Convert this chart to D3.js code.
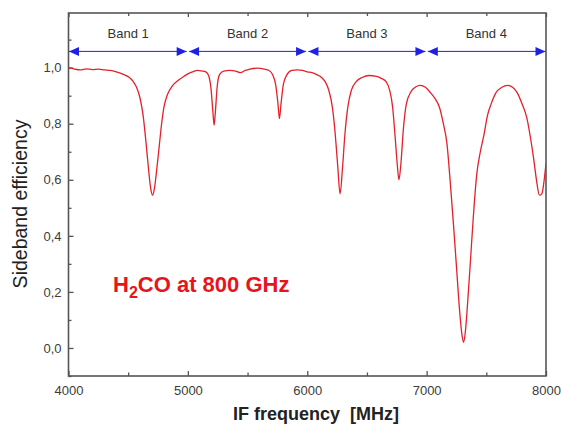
<!DOCTYPE html>
<html>
<head>
<meta charset="utf-8">
<script src="https://cdn.jsdelivr.net/npm/d3@7"></script>
<style>
  body { margin: 0; background: #fff; }
  text { font-family: "Liberation Sans", Arial, sans-serif; }
</style>
</head>
<body>
<div class="vis"></div>
<script>
// IF frequency (MHz) and sideband efficiency
const freq = [4000, 4050, 4100, 4150, 4200, 4250, 4300, 4350, 4400, 4450, 4500, 4540, 4570, 4600, 4625, 4650, 4670, 4690, 4705, 4720, 4740, 4760, 4780, 4800, 4830, 4870, 4920, 4970,
  5000, 5040, 5080, 5120, 5150, 5175, 5195, 5210, 5220, 5230, 5245, 5265, 5300, 5350, 5400, 5440, 5480, 5520, 5580, 5640, 5680, 5710, 5735, 5755, 5767, 5780, 5800, 5830, 5870, 5920, 5960,
  6000, 6040, 6080, 6120, 6150, 6180, 6210, 6235, 6255, 6275, 6295, 6315, 6340, 6370, 6410, 6460, 6520, 6570, 6620, 6660, 6690, 6715, 6735, 6755, 6768, 6785, 6805, 6830, 6870, 6910, 6945, 6990,
  7030, 7070, 7110, 7140, 7170, 7200, 7225, 7250, 7275, 7295, 7310, 7325, 7345, 7370, 7390, 7420, 7450, 7480, 7510, 7540, 7580, 7630, 7680, 7720, 7760, 7800, 7840, 7870, 7895, 7920, 7945, 7965, 7985, 8000];
const efficiency = [1.000, 0.995, 0.992, 0.996, 0.993, 0.995, 0.992, 0.990, 0.985, 0.978, 0.968, 0.952, 0.930, 0.890, 0.830, 0.730, 0.640, 0.565, 0.545, 0.570, 0.640, 0.720, 0.800, 0.860, 0.905, 0.935, 0.955, 0.970,
  0.978, 0.985, 0.990, 0.988, 0.985, 0.970, 0.920, 0.840, 0.795, 0.840, 0.930, 0.975, 0.988, 0.990, 0.988, 0.982, 0.990, 0.995, 0.998, 0.995, 0.990, 0.975, 0.940, 0.870, 0.818, 0.870, 0.940, 0.975, 0.990, 0.992, 0.990,
  0.985, 0.982, 0.975, 0.965, 0.950, 0.920, 0.860, 0.760, 0.650, 0.550, 0.640, 0.760, 0.860, 0.920, 0.950, 0.965, 0.972, 0.970, 0.962, 0.950, 0.920, 0.860, 0.760, 0.650, 0.600, 0.660, 0.780, 0.870, 0.915, 0.932, 0.937, 0.930,
  0.912, 0.890, 0.855, 0.800, 0.730, 0.580, 0.440, 0.290, 0.140, 0.050, 0.020, 0.060, 0.170, 0.330, 0.460, 0.620, 0.700, 0.760, 0.830, 0.870, 0.910, 0.930, 0.937, 0.930, 0.910, 0.870, 0.820, 0.750, 0.680, 0.600, 0.545, 0.550, 0.600, 0.660];

const bandNames = ["Band 1", "Band 2", "Band 3", "Band 4"];
const bandStart = [4000, 5000, 6000, 7000];
const bandEnd = [5000, 6000, 7000, 8000];
const bandLevel = 1.058;

const xMajor = [4000, 5000, 6000, 7000, 8000];
const xMinor = [4500, 5500, 6500, 7500];
const yMajor = [0.0, 0.2, 0.4, 0.6, 0.8, 1.0];
const yMinor = [-0.1, 0.1, 0.3, 0.5, 0.7, 0.9, 1.1];

const data = freq.map((f, i) => ({ f: f, e: efficiency[i] }));

const W = 561, H = 429;
const plot = { left: 68.5, right: 546, top: 13, bottom: 376 };

const svg = d3.select(".vis").append("svg")
    .attr("width", W)
    .attr("height", H);

const x = d3.scaleLinear().domain([4000, 8000]).range([plot.left, plot.right]);
const y = d3.scaleLinear().domain([-0.1, 1.195]).range([plot.bottom, plot.top]);

const axisColor = "#555";
const labelColor = "#3c3c3c";

// bottom axis (ticks inward)
svg.append("g").attr("transform", "translate(0," + plot.bottom + ")")
    .call(d3.axisBottom(x).tickValues(xMajor).tickSizeInner(-5).tickSizeOuter(0).tickPadding(10).tickFormat(d3.format("d")));
svg.append("g").attr("transform", "translate(0," + plot.bottom + ")")
    .call(d3.axisBottom(x).tickValues(xMinor).tickSizeInner(-3.5).tickSizeOuter(0).tickFormat(""));
// top ticks
svg.append("g").attr("transform", "translate(0," + plot.top + ")")
    .call(d3.axisTop(x).tickValues(xMajor).tickSizeInner(-4).tickSizeOuter(0).tickFormat(""));
svg.append("g").attr("transform", "translate(0," + plot.top + ")")
    .call(d3.axisTop(x).tickValues(xMinor).tickSizeInner(-3).tickSizeOuter(0).tickFormat(""));

// left axis
const comma = v => d3.format(".1f")(v).replace(".", ",");
svg.append("g").attr("transform", "translate(" + plot.left + ",0)")
    .call(d3.axisLeft(y).tickValues(yMajor).tickSizeInner(-5).tickSizeOuter(0).tickPadding(7).tickFormat(comma));
svg.append("g").attr("transform", "translate(" + plot.left + ",0)")
    .call(d3.axisLeft(y).tickValues(yMinor).tickSizeInner(-3).tickSizeOuter(0).tickFormat(""));

svg.selectAll(".domain").remove();
svg.selectAll(".tick line").attr("stroke", axisColor).attr("stroke-width", 1.3);
svg.selectAll(".tick text").attr("fill", labelColor).style("font-size", "13px")
    .style("font-family", '"Liberation Sans", Arial, sans-serif');

// plot frame
svg.append("rect")
    .attr("x", plot.left).attr("y", plot.top)
    .attr("width", plot.right - plot.left).attr("height", plot.bottom - plot.top)
    .attr("fill", "none")
    .attr("stroke", axisColor)
    .attr("stroke-width", 1.6);

// clip for the curve
svg.append("clipPath").attr("id", "plotclip")
    .append("rect").attr("x", plot.left).attr("y", plot.top)
    .attr("width", plot.right - plot.left).attr("height", plot.bottom - plot.top);

// band arrows
const blue = "#1f1fe8";
const bands = bandNames.map((n, i) => ({ name: n, a: bandStart[i], b: bandEnd[i] }));
const by = y(bandLevel);
const bandG = svg.append("g");
bands.forEach((d, i) => {
    const x0 = x(d.a) + (i === 0 ? 0.5 : 1.2);
    const x1 = x(d.b) - (i === bands.length - 1 ? 0.5 : 1.2);
    bandG.append("line")
        .attr("x1", x0).attr("x2", x1).attr("y1", by).attr("y2", by)
        .attr("stroke", blue).attr("stroke-width", 1);
    bandG.append("path")
        .attr("d", "M" + x0 + "," + by + "L" + (x0 + 10) + "," + (by - 4.5) + "L" + (x0 + 10) + "," + (by + 4.5) + "Z")
        .attr("fill", blue);
    bandG.append("path")
        .attr("d", "M" + x1 + "," + by + "L" + (x1 - 10) + "," + (by - 4.5) + "L" + (x1 - 10) + "," + (by + 4.5) + "Z")
        .attr("fill", blue);
    bandG.append("text")
        .attr("x", x((d.a + d.b) / 2))
        .attr("y", 37.5)
        .attr("text-anchor", "middle")
        .attr("fill", "#333")
        .style("font-size", "13px")
        .text(d.name);
});

// efficiency curve
const line = d3.line()
    .x(d => x(d.f))
    .y(d => y(d.e))
    .curve(d3.curveMonotoneX);

svg.append("path")
    .datum(data)
    .attr("clip-path", "url(#plotclip)")
    .attr("d", line)
    .attr("fill", "none")
    .attr("stroke", "#e4202a")
    .attr("stroke-width", 1.3);

// annotation
const ann = svg.append("text")
    .attr("x", 113)
    .attr("y", 291.5)
    .attr("fill", "#e8141c")
    .style("font-size", "22px")
    .style("font-weight", "bold");
ann.append("tspan").text("H");
ann.append("tspan").attr("dy", 6).style("font-size", "16px").text("2");
ann.append("tspan").attr("dy", -6).text("CO at 800 GHz");

// axis titles
svg.append("text")
    .attr("x", 316)
    .attr("y", 420)
    .attr("text-anchor", "middle")
    .attr("fill", "#222")
    .style("font-size", "18px")
    .style("font-weight", "bold")
    .style("white-space", "pre")
    .text("IF frequency  [MHz]");

svg.append("text")
    .attr("transform", "translate(27," + 204 + ") rotate(-90)")
    .attr("text-anchor", "middle")
    .attr("fill", "#222")
    .style("font-size", "19.5px")
    .text("Sideband efficiency");
</script>
</body>
</html>
